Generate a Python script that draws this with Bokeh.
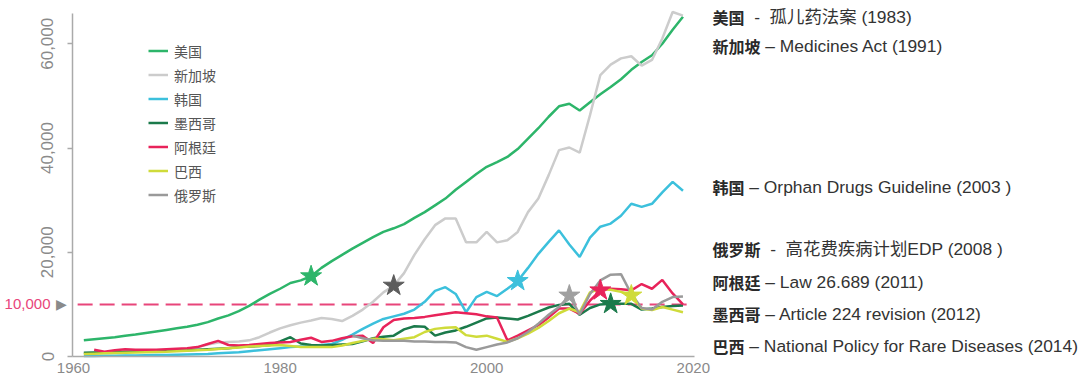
from bokeh.plotting import figure
from bokeh.models import Label, Legend, LegendItem, FixedTicker, NumeralTickFormatter, Range1d
from bokeh.embed import file_html
from bokeh.resources import INLINE

# ---------------- data ----------------
years = list(range(1961, 2020))
years_ar = list(range(1962, 2020))
years_ru = list(range(1987, 2020))

us = [3100, 3300, 3500, 3700, 4000, 4200, 4500, 4800, 5100, 5400,
      5700, 6100, 6600, 7300, 7900, 8700, 9700, 10900, 12000, 13000,
      14100, 14600, 15400, 17000, 18300, 19500, 20700, 21800, 22900, 23900,
      24600, 25400, 26600, 27700, 29000, 30300, 32000, 33500, 35000, 36400,
      37300, 38300, 39800, 41800, 43800, 46000, 48000, 48500, 47200, 48800,
      50300, 51700, 53200, 55000, 56500, 57800, 60000, 62700, 65200]
singapore = [600, 650, 700, 750, 800, 900, 1000, 1100, 1200, 1300,
             1500, 1800, 2300, 2700, 2800, 2900, 3100, 3700, 4600, 5400,
             6000, 6500, 6900, 7400, 7200, 6800, 7800, 9000, 10500, 12300,
             13600, 16000, 19500, 22500, 25200, 26500, 26500, 21900, 21900, 23900,
             21900, 22300, 23900, 27700, 30300, 34800, 39600, 40100, 39100, 46300,
             54000, 56000, 57200, 57600, 55800, 56900, 61000, 66100, 65400]
korea = [100, 100, 150, 150, 200, 200, 250, 300, 300, 350,
         400, 450, 500, 600, 700, 800, 1000, 1200, 1400, 1600,
         1800, 1900, 2000, 2200, 2400, 3200, 4200, 5300, 6300, 7200,
         7700, 8200, 9000, 10500, 12600, 13300, 12000, 8500, 11400, 12400,
         11600, 13000, 14500, 17000, 19700, 22000, 24200, 21500, 19100, 22800,
         24900, 25500, 27000, 29300, 28700, 29300, 31500, 33500, 31800]
mexico = [700, 750, 800, 850, 900, 950, 1000, 1050, 1100, 1150,
          1200, 1300, 1400, 1500, 1600, 1800, 1900, 2000, 2200, 2900,
          3700, 2500, 2200, 2100, 2200, 2300, 2400, 2900, 3500, 3800,
          4000, 5200, 5800, 5700, 4000, 4600, 5000, 5700, 6500, 7300,
          7500, 7300, 7100, 7800, 8600, 9400, 9900, 10100, 8000, 9300,
          10000, 10100, 10100, 10100, 9000, 9200, 9500, 9700, 9800]
argentina = [1300, 900, 1200, 1400, 1300, 1300, 1300, 1400, 1500, 1600,
             1800, 2400, 3000, 2200, 2100, 2200, 2400, 2600, 2700, 2800,
             3200, 3600, 2800, 3000, 3500, 3900, 4000, 2600, 5600, 7000,
             7300, 7400, 7600, 7900, 8200, 8500, 8300, 8100, 7700, 7500,
             3100, 4000, 5000, 6000, 7500, 9200, 9200, 8200, 10700, 12700,
             13000, 12900, 12700, 13900, 13000, 14700, 12100, 10000]
brazil = [500, 550, 600, 650, 700, 750, 800, 850, 900, 1000,
          1100, 1200, 1300, 1450, 1600, 1750, 1900, 2000, 2100, 2200,
          2000, 1800, 1800, 1800, 1800, 2100, 2600, 3000, 3400, 3300,
          3100, 3400, 3700, 4700, 5300, 5500, 5600, 4100, 3800, 4000,
          3400, 2800, 3500, 4400, 5500, 6800, 8300, 9200, 8500, 12300,
          13000, 12800, 12400, 11700, 9200, 8900, 9500, 9000, 8500]
russia = [4000, 3500, 3100, 3000, 3000, 3000, 2900, 2900, 2800, 2800,
          2700, 1800, 1300, 1800, 2300, 2700, 3500, 4700, 6300, 8000,
          9500, 11700, 8100, 12000, 14600, 15700, 15800, 12000, 9300, 9000,
          10500, 11400, 11500]

country_names = ["美国", "新加坡", "韩国", "墨西哥", "阿根廷", "巴西", "俄罗斯"]
policy_years = {"美国": 1983, "新加坡": 1991, "韩国": 2003, "墨西哥": 2012,
                "阿根廷": 2011, "巴西": 2014, "俄罗斯": 2008}
threshold = 10000
threshold_label = "10,000"
y_ticks = [0, 20000, 40000, 60000]
x_ticks = [1960, 1980, 2000, 2020]

NB = "\u00a0"
note_names = ["美国", "新加坡", "韩国", "俄罗斯", "阿根廷", "墨西哥", "巴西"]
note_texts = [NB * 2 + "-" + NB * 2 + "孤儿药法案 (1983)",
              NB + "– Medicines Act (1991)",
              NB + "– Orphan Drugs Guideline (2003 )",
              NB * 2 + "-" + NB * 2 + "高花费疾病计划EDP (2008 )",
              NB + "– Law 26.689 (2011)",
              NB + "– Article 224 revision (2012)",
              NB + "– National Policy for Rare Diseases (2014)"]

# ---------------- styling ----------------
line_colors = {"美国": "#2db56a", "新加坡": "#cccccc", "韩国": "#3cc0dc",
               "墨西哥": "#1b7a4b", "阿根廷": "#e8235a", "巴西": "#cfdb3a",
               "俄罗斯": "#9a9a9a"}
star_colors = {"美国": "#2db56a", "新加坡": "#5c5c5c", "韩国": "#3cc0dc",
               "墨西哥": "#1b7a4b", "阿根廷": "#e8235a", "巴西": "#cfdb3a",
               "俄罗斯": "#a0a0a0"}
note_rows_px = [16, 45, 186, 248, 281, 313, 345]

# pixel geometry of the picture (used only to place the frame and annotations)
X0_PX, PX_PER_YEAR = 73.0, 10.33
Y0_PX, PX_PER_UNIT = 356.0, 5.212 / 1000.0


def px_x(px):
    return 1960 + (px - X0_PX) / PX_PER_YEAR


def px_y(py):
    return (Y0_PX - py) / PX_PER_UNIT


series = {
    "美国": (years, us),
    "新加坡": (years, singapore),
    "韩国": (years, korea),
    "墨西哥": (years, mexico),
    "阿根廷": (years_ar, argentina),
    "巴西": (years, brazil),
    "俄罗斯": (years_ru, russia),
}

W, H = 1080, 389
p = figure(width=W, height=H, output_backend="svg", toolbar_location=None,
           x_range=Range1d(px_x(0), px_x(W)), y_range=Range1d(px_y(H), px_y(0)),
           min_border=0, min_border_left=0, min_border_right=0,
           min_border_top=0, min_border_bottom=0)
p.outline_line_color = None
p.xgrid.visible = False
p.ygrid.visible = False
p.background_fill_color = "white"
p.border_fill_color = "white"

# axes drawn at fixed positions inside the full-canvas frame
x_axis_start = px_x(72)
for ax in (p.xaxis[0], p.yaxis[0]):
    ax.axis_line_color = "#aaaaaa"
    ax.axis_line_width = 1.5
    ax.major_tick_line_color = "#aaaaaa"
    ax.major_tick_line_width = 1.5
    ax.minor_tick_line_color = None
    ax.major_label_text_color = "#8a8a8a"
    ax.major_label_text_font = "Liberation Sans"
    ax.major_tick_in = 0

p.xaxis.fixed_location = 0
p.xaxis.bounds = (x_axis_start, px_x(693.5))
p.xaxis.ticker = FixedTicker(ticks=x_ticks)
p.xaxis.major_tick_out = 0
p.xaxis.major_label_standoff = 6
p.xaxis.major_label_text_font_size = "15px"

p.yaxis.fixed_location = x_axis_start
p.yaxis.bounds = (0, px_y(13))
p.yaxis.ticker = FixedTicker(ticks=y_ticks)
p.yaxis.formatter = NumeralTickFormatter(format="0,0")
p.yaxis.major_label_orientation = "vertical"
p.yaxis.major_tick_out = 5
p.yaxis.major_label_standoff = 14
p.yaxis.major_label_text_font_size = "17px"

# threshold line
p.line([x_ticks[0] + 0.4, x_ticks[-1]], [threshold, threshold], line_color="#e8457a",
       line_width=2, line_dash="15 7")

renderers = {}
for name in country_names:
    xs, ys = series[name]
    renderers[name] = p.line(xs, ys, line_color=line_colors[name], line_width=2.5)

for name in ["美国", "新加坡", "韩国", "俄罗斯", "阿根廷", "墨西哥", "巴西"]:
    xs, ys = series[name]
    yr = policy_years[name]
    v = ys[xs.index(yr)]
    p.scatter([yr], [v], marker="star", size=22, fill_color=star_colors[name],
              line_color=star_colors[name])

legend = Legend(items=[LegendItem(label=n, renderers=[renderers[n]]) for n in country_names],
                location=(148, 184), orientation="vertical")
legend.background_fill_alpha = 0
legend.border_line_color = None
legend.padding = 0
legend.margin = 0
legend.spacing = 3
legend.glyph_height = 21
legend.label_height = 21
legend.glyph_width = 20
legend.label_standoff = 6
legend.label_text_font = "Noto Sans CJK SC"
legend.label_text_font_size = "14px"
legend.label_text_color = "#555555"
p.add_layout(legend)

# 10,000 marker on the left
p.add_layout(Label(x=px_x(50), y=threshold, text=threshold_label, text_align="right",
                   text_baseline="middle", text_color="#e8457a",
                   text_font="Liberation Sans", text_font_size="15px"))
p.add_layout(Label(x=px_x(61), y=threshold, text="▶", text_align="center",
                   text_baseline="middle", text_color="#8a8a8a",
                   text_font="DejaVu Sans", text_font_size="14px"))

# right-hand policy notes
for name, txt, row in zip(note_names, note_texts, note_rows_px):
    p.add_layout(Label(x=px_x(712), y=px_y(row), text=name, text_align="left",
                       text_baseline="middle", text_color="#2a2a2a",
                       text_font="Noto Sans CJK SC", text_font_style="bold",
                       text_font_size="16px"))
    p.add_layout(Label(x=px_x(712 + 16 * len(name)), y=px_y(row), text=txt,
                       text_align="left", text_baseline="middle",
                       text_color="#333333",
                       text_font="Liberation Sans, Noto Sans CJK SC",
                       text_font_size="17.4px"))

open("out.html", "w").write(file_html(p, INLINE))
